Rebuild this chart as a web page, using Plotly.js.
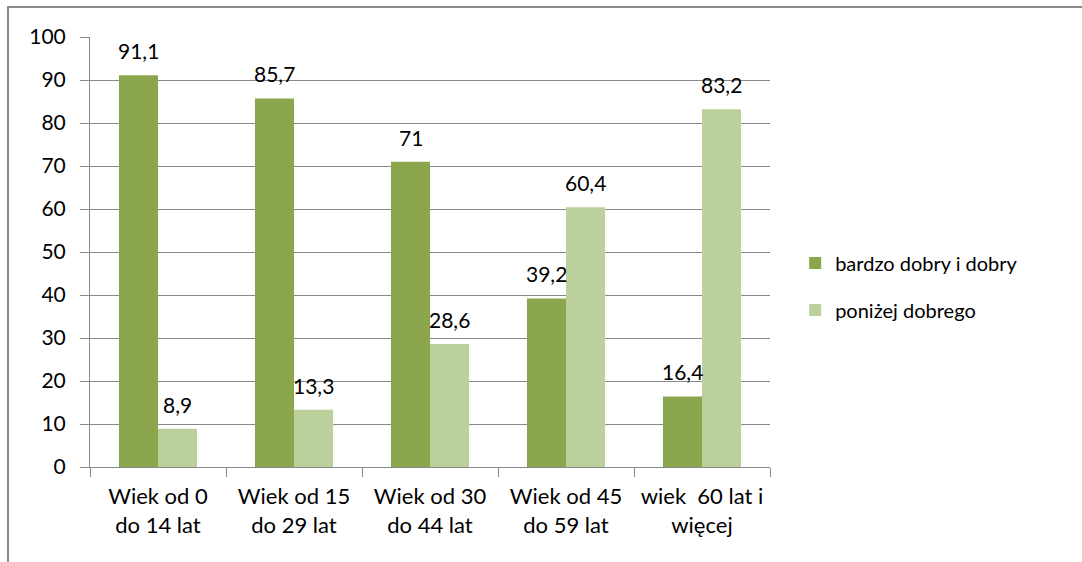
<!DOCTYPE html>
<html>
<head>
<meta charset="utf-8">
<script src="https://cdn.plot.ly/plotly-3.0.1.min.js"></script>
<style>
body{margin:0;padding:0;background:#fff;}
#frame{position:absolute;left:7px;top:6px;width:1080px;height:560px;border-top:2px solid #8a8a8a;border-left:2px solid #8a8a8a;pointer-events:none;}
#chart{position:absolute;left:0;top:0;width:1082px;height:562px;}
</style>
</head>
<body>
<div id="chart"></div>
<div id="frame"></div>
<script>
var categories = ["Wiek od 0<br>do 14 lat","Wiek od 15<br>do 29 lat","Wiek od 30<br>do 44 lat","Wiek od 45<br>do 59 lat","wiek  60 lat i<br>więcej"];
var seriesNames = ["bardzo dobry i dobry","poniżej dobrego"];
var goodValues = [91.1, 85.7, 71, 39.2, 16.4];
var belowValues = [8.9, 13.3, 28.6, 60.4, 83.2];
var colors = ["#8BA64D","#BBD09A"];
var font = "Lato, 'Open Sans', sans-serif";
var fs = 21;

function fmt(v){ return String(v).replace('.', ','); }

var traces = [
  {type:'bar', name:seriesNames[0], x:categories, y:goodValues, marker:{color:colors[0]}, hoverinfo:'none', legendgroup:'a'},
  {type:'bar', name:seriesNames[1], x:categories, y:belowValues, marker:{color:colors[1]}, hoverinfo:'none', legendgroup:'b'}
];

var annotations = [];
[goodValues, belowValues].forEach(function(vals, s){
  vals.forEach(function(v, i){
    annotations.push({x:categories[i], y:v, xref:'x', yref:'y', text:fmt(v), showarrow:false,
      xshift:(s===0?-19.5:19.5), yshift:10, yanchor:'bottom',
      font:{family:font, size:fs, color:'#000'}});
  });
});

var layout = {
  width:1082, height:562,
  margin:{l:90, r:312, t:37, b:95},
  paper_bgcolor:'#fff', plot_bgcolor:'#fff',
  barmode:'group', bargap:0.426, bargroupgap:0,
  showlegend:true,
  legend:{x:1.037, y:0.42, xanchor:'left', yanchor:'middle', font:{family:font, size:fs-1, color:'#000'}, traceorder:'grouped', tracegroupgap:18, itemwidth:30},
  xaxis:{type:'category', tickson:'boundaries', ticks:'outside', ticklen:9, tickcolor:'#888', showline:true, linecolor:'#888', linewidth:1, showgrid:false,
    ticklabelstandoff:10, tickfont:{family:font, size:22, color:'#000'}},
  yaxis:{range:[0,100], dtick:10, ticks:'outside', ticklen:9, tickcolor:'#888', showline:true, linecolor:'#888', linewidth:1,
    ticklabelstandoff:10, showgrid:true, gridcolor:'#888', gridwidth:1, zeroline:false, tickfont:{family:font, size:fs, color:'#000'}},
  annotations:annotations,
  font:{family:font}
};

Plotly.newPlot('chart', traces, layout, {displayModeBar:false, staticPlot:true});
</script>
</body>
</html>
